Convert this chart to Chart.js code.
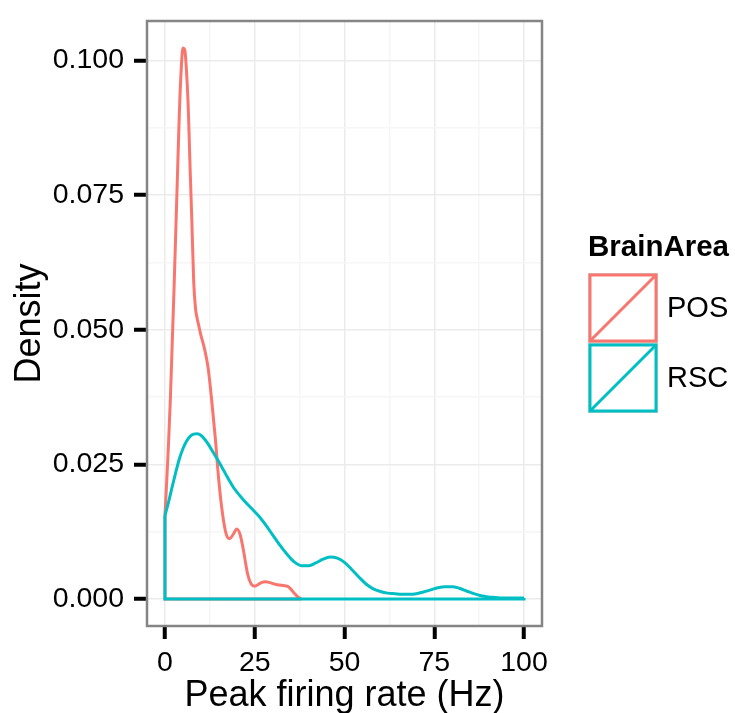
<!DOCTYPE html>
<html>
<head>
<meta charset="utf-8">
<script src="https://cdn.jsdelivr.net/npm/chart.js@4.4.0/dist/chart.umd.min.js"></script>
<style>
  html, body { margin: 0; padding: 0; background: #fff; }
  #wrap { width: 735px; height: 713px; }
</style>
</head>
<body>
<div id="wrap"><canvas id="densityChart" width="735" height="713"></canvas></div>
<script>
const legendTitle = 'BrainArea';
const areas = ['POS', 'RSC'];
const areaColors = ['#F8766D', '#00BFC4'];

// density curves
const posX = [0, 0.5, 1, 1.5, 2, 2.5, 3, 3.5, 4, 4.5, 5, 5.5, 6, 6.5, 7, 7.5, 8, 8.5, 9, 9.5, 10,
  11, 12, 13, 14, 15, 16, 17, 18, 19, 20, 21, 22, 23, 24, 25, 26, 27, 28, 29, 30, 31, 32, 33, 34, 35, 36, 37, 38];
const posY = [0.0155, 0.022, 0.029, 0.037, 0.047, 0.057, 0.068, 0.079, 0.090, 0.098, 0.1023, 0.1020, 0.098, 0.091, 0.080, 0.070, 0.059, 0.054, 0.052, 0.0505, 0.049,
  0.0465, 0.043, 0.037, 0.030, 0.022, 0.016, 0.0122, 0.0112, 0.0120, 0.0130, 0.0118, 0.0085, 0.0047, 0.0028, 0.0024, 0.0027, 0.0031, 0.0032, 0.0031, 0.0029, 0.0027, 0.0026, 0.0025, 0.0024, 0.0019, 0.0011, 0.0004, 0];

const rscX = [0, 1, 2, 3, 4, 5, 6, 7, 8, 9, 10, 11, 12, 13, 14, 15, 16, 17, 18, 19, 20,
  22, 24, 26, 28, 30, 32, 34, 36, 38, 40, 42, 44, 46, 48, 50, 52, 54, 56, 58, 60,
  62, 64, 66, 68, 70, 72, 74, 76, 78, 80, 82, 84, 86, 88, 90, 92, 94, 96, 98, 100];
const rscY = [0.0155, 0.018, 0.0208, 0.0235, 0.026, 0.0279, 0.0293, 0.0302, 0.0306, 0.0307, 0.0304, 0.0297, 0.0288, 0.0277, 0.0266, 0.0255, 0.0243, 0.0231, 0.0219, 0.0208, 0.0199,
  0.0183, 0.0169, 0.0155, 0.0138, 0.0119, 0.0100, 0.0083, 0.0069, 0.0062, 0.0062, 0.0067, 0.0074, 0.0078, 0.0076, 0.0068, 0.0055, 0.0041, 0.0028, 0.0019, 0.0014,
  0.0011, 0.0010, 0.0009, 0.0009, 0.0010, 0.0013, 0.0017, 0.0021, 0.0023, 0.0023, 0.0020, 0.0015, 0.0010, 0.0006, 0.0004, 0.0003, 0.0002, 0.0002, 0.0002, 0.0002];

const xMajor = [0, 25, 50, 75, 100];
const xMinor = [12.5, 37.5, 62.5, 87.5];
const yMajor = [0, 0.025, 0.05, 0.075, 0.1];
const yMinor = [0.0125, 0.0375, 0.0625, 0.0875];

const FONT = '"Liberation Sans", Arial, sans-serif';

function curve(xs, ys, color) {
  return {
    data: xs.map((x, i) => ({ x, y: ys[i] })),
    borderColor: color, borderWidth: 3, pointRadius: 0,
    showLine: true, fill: false, cubicInterpolationMode: 'monotone'
  };
}

// vertical edges + baseline of the density polygon
function outline(xs, ys, color) {
  const n = xs.length - 1;
  return {
    data: [{ x: xs[0], y: ys[0] }, { x: xs[0], y: 0 }, { x: xs[n], y: 0 }, { x: xs[n], y: ys[n] }],
    borderColor: color, borderWidth: 3, pointRadius: 0,
    showLine: true, fill: false, tension: 0
  };
}

const allTicks = (major, minor) => [...major, ...minor].sort((a, b) => a - b).map(v => ({ value: v }));

const panelBorder = {
  id: 'panelBorder',
  afterDraw(chart) {
    const { ctx, chartArea: a } = chart;
    ctx.save();
    ctx.strokeStyle = '#858585';
    ctx.lineWidth = 2.5;
    ctx.strokeRect(a.left, a.top, a.right - a.left, a.bottom - a.top);
    ctx.restore();
  }
};

const ggLegend = {
  id: 'ggLegend',
  afterDraw(chart) {
    const { ctx, chartArea: a } = chart;
    const x0 = a.right + 46, y0 = 273, size = 70;
    ctx.save();
    ctx.fillStyle = '#000';
    ctx.font = 'bold 29.5px ' + FONT;
    ctx.textBaseline = 'alphabetic';
    ctx.fillText(legendTitle, x0, 256);
    areas.forEach((name, i) => {
      const top = y0 + i * size;
      ctx.strokeStyle = '#d0d0d0';
      ctx.lineWidth = 1;
      ctx.strokeRect(x0 + 0.5, top + 0.5, size - 1, size - 1);
      ctx.strokeStyle = areaColors[i];
      ctx.lineWidth = 3;
      ctx.strokeRect(x0 + 2, top + 2, size - 4, size - 4);
      ctx.beginPath();
      ctx.moveTo(x0 + 2, top + size - 2);
      ctx.lineTo(x0 + size - 2, top + 2);
      ctx.stroke();
      ctx.fillStyle = '#000';
      ctx.font = '29px ' + FONT;
      ctx.textBaseline = 'middle';
      ctx.fillText(name, x0 + 79, top + size / 2 + 1);
    });
    ctx.restore();
  }
};

new Chart(document.getElementById('densityChart'), {
  type: 'scatter',
  data: {
    datasets: [
      curve(rscX, rscY, areaColors[1]),
      outline(rscX, rscY, areaColors[1]),
      curve(posX, posY, areaColors[0]),
      outline(posX, posY, areaColors[0])
    ]
  },
  options: {
    responsive: false,
    animation: false,
    layout: { padding: { top: 21, right: 193, left: 0, bottom: 0 } },
    plugins: { legend: { display: false }, tooltip: { enabled: false } },
    scales: {
      x: {
        type: 'linear', min: -5, max: 105,
        afterBuildTicks: s => { s.ticks = allTicks(xMajor, xMinor); },
        afterFit: s => { s.height = 87; s.paddingLeft = 0; s.paddingRight = 0; },
        border: { display: false },
        grid: {
          color: c => xMajor.includes(c.tick.value) ? '#ebebeb' : '#f6f6f6',
          lineWidth: 1.5,
          tickColor: c => xMajor.includes(c.tick.value) ? '#000' : 'rgba(0,0,0,0)',
          tickLength: 13, tickWidth: 4
        },
        ticks: {
          callback: v => xMajor.includes(v) ? String(v) : '',
          font: { family: FONT, size: 28.5 }, color: '#000', padding: 7,
          maxRotation: 0, autoSkip: false
        },
        title: { display: true, text: 'Peak firing rate (Hz)', font: { family: FONT, size: 36, lineHeight: 0.95 }, color: '#000', padding: 0 }
      },
      y: {
        type: 'linear', min: -0.005, max: 0.1073,
        afterBuildTicks: s => { s.ticks = allTicks(yMajor, yMinor); },
        afterFit: s => { s.width = 147; s.paddingTop = 0; s.paddingBottom = 0; },
        border: { display: false },
        grid: {
          color: c => yMajor.includes(c.tick.value) ? '#ebebeb' : '#f6f6f6',
          lineWidth: 1.5,
          tickColor: c => yMajor.includes(c.tick.value) ? '#000' : 'rgba(0,0,0,0)',
          tickLength: 13, tickWidth: 4
        },
        ticks: {
          callback: v => yMajor.includes(v) ? v.toFixed(3) : '',
          font: { family: FONT, size: 28.5 }, color: '#000', padding: 10,
          autoSkip: false
        },
        title: { display: true, text: 'Density', font: { family: FONT, size: 36 }, color: '#000', padding: { top: 8, bottom: 0 } }
      }
    }
  },
  plugins: [panelBorder, ggLegend]
});
</script>
</body>
</html>
